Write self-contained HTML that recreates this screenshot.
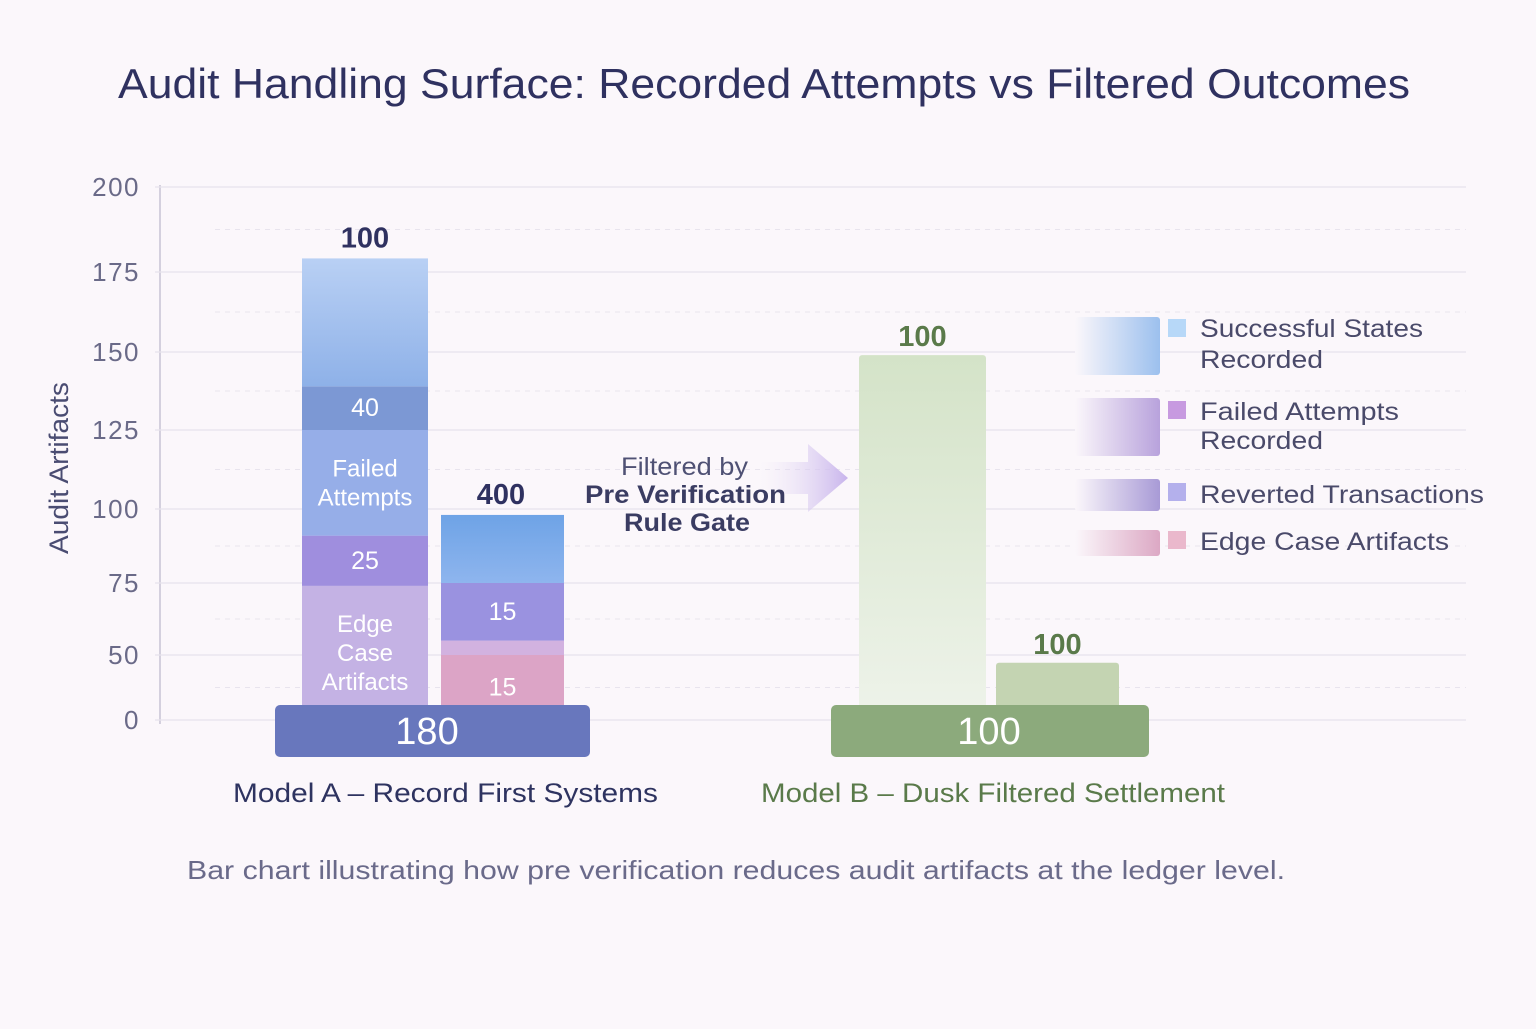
<!DOCTYPE html>
<html><head><meta charset="utf-8"><style>
html,body{margin:0;padding:0;background:#fbf7fb;}
body{width:1536px;height:1024px;overflow:hidden;font-family:"Liberation Sans",sans-serif;}
</style></head><body>
<svg id="chart" width="1536" height="1024" viewBox="0 0 1536 1024" xmlns="http://www.w3.org/2000/svg">
<defs>
<linearGradient id="gSucc" x1="0" y1="0" x2="0" y2="1"><stop offset="0" stop-color="#b9d0f4"/><stop offset="1" stop-color="#8eb1e8"/></linearGradient>
<linearGradient id="gBlue2" x1="0" y1="0" x2="0" y2="1"><stop offset="0" stop-color="#6ea3e6"/><stop offset="1" stop-color="#8eb5ee"/></linearGradient>
<linearGradient id="gGreen" x1="0" y1="0" x2="0" y2="1"><stop offset="0" stop-color="#d4e3c8"/><stop offset="1" stop-color="#eef3ea"/></linearGradient>
<linearGradient id="gArrow" x1="0" y1="0" x2="1" y2="0"><stop offset="0" stop-color="#ece4f6" stop-opacity="0"/><stop offset="1" stop-color="#c8b4ec"/></linearGradient>
<linearGradient id="lg0" x1="0" x2="1"><stop offset="0" stop-color="#fbf7fb"/><stop offset="1" stop-color="#9cc0ee"/></linearGradient>
<linearGradient id="lg1" x1="0" x2="1"><stop offset="0" stop-color="#fbf7fb"/><stop offset="1" stop-color="#b8a2dc"/></linearGradient>
<linearGradient id="lg2" x1="0" x2="1"><stop offset="0" stop-color="#fbf7fb"/><stop offset="1" stop-color="#a89ad6"/></linearGradient>
<linearGradient id="lg3" x1="0" x2="1"><stop offset="0" stop-color="#fbf7fb"/><stop offset="1" stop-color="#dca8c4"/></linearGradient>
</defs>
<text x="118" y="98" textLength="1292" lengthAdjust="spacingAndGlyphs" font-size="42" fill="#2f3160">Audit Handling Surface: Recorded Attempts vs Filtered Outcomes</text>
<text transform="translate(68,468) rotate(-90)" text-anchor="middle" font-size="27" textLength="172" lengthAdjust="spacingAndGlyphs" fill="#4a4c72">Audit Artifacts</text>
<g id="grid"></g><g id="bars"></g>
<rect x="275" y="705" width="315" height="52" rx="5" fill="#6877bd"/>
<text x="427" y="744" text-anchor="middle" font-size="38" fill="#fff">180</text>
<rect x="831" y="705" width="318" height="52" rx="5" fill="#8caa7c"/>
<text x="989" y="744" text-anchor="middle" font-size="38" fill="#fff">100</text>
<path d="M760 462 L808 462 L808 444 L848 478 L808 512 L808 494 L760 494 Z" fill="url(#gArrow)"/>
<text x="621" y="475" textLength="127" lengthAdjust="spacingAndGlyphs" font-size="25" fill="#4f5174">Filtered by</text>
<text x="585" y="503" textLength="201" lengthAdjust="spacingAndGlyphs" font-size="25" font-weight="bold" fill="#3a3c62">Pre Verification</text>
<text x="624" y="531" textLength="126" lengthAdjust="spacingAndGlyphs" font-size="25" font-weight="bold" fill="#3a3c62">Rule Gate</text>
<text x="233" y="802" textLength="425" lengthAdjust="spacingAndGlyphs" font-size="27" fill="#2e3360">Model A – Record First Systems</text>
<text x="761" y="802" textLength="464" lengthAdjust="spacingAndGlyphs" font-size="27" fill="#5a7a4a">Model B – Dusk Filtered Settlement</text>
<text x="187" y="879" textLength="1098" lengthAdjust="spacingAndGlyphs" font-size="26" fill="#6a6a8a">Bar chart illustrating how pre verification reduces audit artifacts at the ledger level.</text>
<g>
<rect x="1075" y="317" width="85" height="58" rx="3" fill="url(#lg0)"/>
<rect x="1168" y="319" width="18" height="18" fill="#b7d8f8"/>
<text x="1200" y="337" textLength="223" lengthAdjust="spacingAndGlyphs" font-size="25" fill="#4a4a6a">Successful States</text>
<text x="1200" y="368" textLength="123" lengthAdjust="spacingAndGlyphs" font-size="25" fill="#4a4a6a">Recorded</text>
<rect x="1075" y="398" width="85" height="58" rx="3" fill="url(#lg1)"/>
<rect x="1168" y="401" width="18" height="18" fill="#c79ae0"/>
<text x="1200" y="420" textLength="199" lengthAdjust="spacingAndGlyphs" font-size="25" fill="#4a4a6a">Failed Attempts</text>
<text x="1200" y="449" textLength="123" lengthAdjust="spacingAndGlyphs" font-size="25" fill="#4a4a6a">Recorded</text>
<rect x="1075" y="479" width="85" height="32" rx="3" fill="url(#lg2)"/>
<rect x="1168" y="483" width="18" height="18" fill="#b4b0ec"/>
<text x="1200" y="503" textLength="284" lengthAdjust="spacingAndGlyphs" font-size="25" fill="#4a4a6a">Reverted Transactions</text>
<rect x="1075" y="530" width="85" height="26" rx="3" fill="url(#lg3)"/>
<rect x="1168" y="531" width="18" height="18" fill="#eab8cc"/>
<text x="1200" y="550" textLength="249" lengthAdjust="spacingAndGlyphs" font-size="25" fill="#4a4a6a">Edge Case Artifacts</text>
</g>
</svg>
<script>
const tickValues = [0, 50, 75, 100, 125, 150, 175, 200];
const tickPixels = [720, 655, 583, 509, 430, 352, 272, 187]; // axis calibration
const categories = ["Model A – Record First Systems", "Model B – Dusk Filtered Settlement"];
const segA1Tops = [74, 91, 125, 139, 179];
const segA1Labels = ["Edge\nCase\nArtifacts", "25", "Failed\nAttempts", "40", ""];
const segA2Tops = [50, 55, 75, 98];
const segA2Labels = ["15", "", "15", ""];
const topLabelsA = ["100", "400"];
const barB = [149, 44];
const topLabelsB = ["100", "100"];

const NS = "http://www.w3.org/2000/svg";
function y(v){
  for (let i=0;i<tickValues.length-1;i++){
    if (v<=tickValues[i+1]){ const t=(v-tickValues[i])/(tickValues[i+1]-tickValues[i]); return tickPixels[i]+t*(tickPixels[i+1]-tickPixels[i]); }
  }
  return tickPixels[tickPixels.length-1];
}
function mk(tag, attrs, parent){ const e=document.createElementNS(NS,tag); for(const k in attrs) e.setAttribute(k,attrs[k]); parent.appendChild(e); return e; }
const grid=document.getElementById('grid'), bars=document.getElementById('bars');
mk('line',{x1:160,y1:185,x2:160,y2:724,stroke:'#c8c4d4','stroke-width':1.5},grid);
tickValues.forEach((v,i)=>{
  const l=mk('line',{x1:155,y1:y(v),x2:1466,y2:y(v),stroke:'#e6e2ec','stroke-width':1.2},grid);
  
  
  const t=mk('text',{x:140,y:y(v)+9,'text-anchor':'end','font-size':26,'letter-spacing':1.5,fill:'#6a6a88'},grid);
  t.textContent=String(v);
  
  
  if(i<tickValues.length-1){
    const m=(y(v)+y(tickValues[i+1]))/2;
    const d=mk('line',{x1:215,y1:m,x2:1466,y2:m,stroke:'#e8e4ee','stroke-width':1,'stroke-dasharray':'5 5'},grid);
    
    
  }
});
function stack(x,w,tops,labels,fills,txtCol,name){
  let prev=0;
  tops.forEach((top,i)=>{
    const y0=y(prev), y1=y(top);
    const r=mk('rect',{x:x,y:y1,width:w,height:y0-y1,fill:fills[i]},bars);
    
    
    if(labels[i]){
      const lines=labels[i].split('\n'); const mid=(y0+y1)/2;
      lines.forEach((s,j)=>{
        const t=mk('text',{x:x+w/2,y:mid+8+(j-(lines.length-1)/2)*29,'text-anchor':'middle','font-size':lines.length>1?24:25,fill:txtCol},bars);
        t.textContent=s;
        
        
      });
    }
    prev=top;
  });
}
stack(302,126,segA1Tops,segA1Labels,['#c4b2e4','#9f8ede','#96aee8','#7c98d4','url(#gSucc)'],'#ffffff','bar-a1');
stack(441,123,segA2Tops,segA2Labels,['#dca4c6','#d2b2e0','#9a92e0','url(#gBlue2)'],'#ffffff','bar-a2');
[[365,segA1Tops[4]],[501,segA2Tops[3]]].forEach((p,i)=>{
  const t=mk('text',{x:p[0],y:y(p[1])-11,'text-anchor':'middle','font-size':29,'font-weight':'bold',fill:'#2f3160'},bars);
  t.textContent=topLabelsA[i];
  
  
});
[[859,127],[996,123]].forEach((p,i)=>{
  const r=mk('rect',{x:p[0],y:y(barB[i]),width:p[1],height:y(0)-y(barB[i]),rx:3,fill:i?'#c4d4b2':'url(#gGreen)'},bars);
  
  
  const t=mk('text',{x:p[0]+p[1]/2,y:y(barB[i])-9,'text-anchor':'middle','font-size':29,'font-weight':'bold',fill:'#5a7a4a'},bars);
  t.textContent=topLabelsB[i];
  
  
});
</script>
</body></html>
